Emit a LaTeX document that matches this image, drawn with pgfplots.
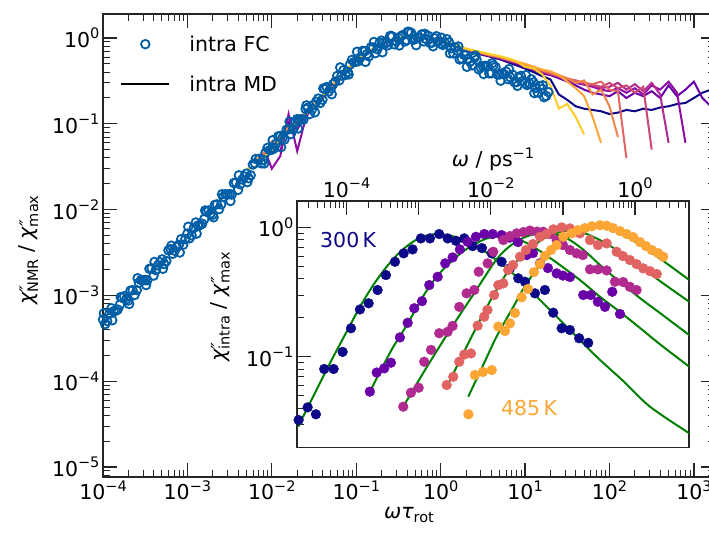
\documentclass[border=0pt]{standalone}
\usepackage{fontspec}
\setmainfont{DejaVu Sans}
\usepackage{pgfplots}
\pgfplotsset{compat=1.18}
\usepackage{pgfplotstable}

\newcommand{\fs}{\fontsize{20.5}{24}\selectfont}
\newcommand{\sups}[1]{\raisebox{0.42em}{\fontsize{14.5}{15}\selectfont #1}}
\newcommand{\subs}[1]{\raisebox{-0.22em}{\fontsize{14.5}{15}\selectfont #1}}
\newcommand{\chipp}[1]{{\itshape χ}\makebox[0pt][l]{\raisebox{0.05em}{\fontsize{18}{18}\selectfont\itshape\kern0.02em″}}\subs{#1}}

\definecolor{fcblue}{RGB}{0,94,166}
\definecolor{p0}{HTML}{0D0887}
\definecolor{p2}{HTML}{6A00A8}
\definecolor{p3}{HTML}{8F0DA4}
\definecolor{p4}{HTML}{B12A90}
\definecolor{p5}{HTML}{CC4778}
\definecolor{p6}{HTML}{E16462}
\definecolor{p7}{HTML}{F2844B}
\definecolor{p8}{HTML}{FCA636}
\definecolor{p9}{HTML}{FCCE25}
\definecolor{fitgreen}{HTML}{008000}

\pgfplotstableread{
x y
1.000e-4 5.25e-4
1.122e-4 5.01e-4
1.259e-4 7.08e-4
1.413e-4 6.61e-4
1.585e-4 7.76e-4
1.778e-4 9.77e-4
1.995e-4 8.71e-4
2.239e-4 1.15e-3
2.512e-4 1.15e-3
2.818e-4 1.51e-3
3.162e-4 1.51e-3
3.548e-4 2.04e-3
3.981e-4 1.70e-3
4.467e-4 2.24e-3
5.012e-4 2.63e-3
5.623e-4 2.51e-3
6.310e-4 3.47e-3
7.079e-4 3.31e-3
7.943e-4 3.89e-3
8.913e-4 3.89e-3
1.000e-3 5.25e-3
1.122e-3 5.01e-3
1.259e-3 7.08e-3
1.413e-3 6.61e-3
1.585e-3 7.76e-3
1.778e-3 9.77e-3
1.995e-3 8.71e-3
2.239e-3 1.15e-2
2.512e-3 1.15e-2
2.818e-3 1.51e-2
3.162e-3 1.51e-2
3.548e-3 2.04e-2
3.981e-3 1.70e-2
4.467e-3 2.24e-2
5.012e-3 2.63e-2
5.623e-3 2.51e-2
6.310e-3 3.47e-2
1.059e-4 4.62e-4
1.189e-4 6.10e-4
1.334e-4 6.53e-4
1.496e-4 6.84e-4
1.679e-4 9.44e-4
1.884e-4 9.02e-4
2.113e-4 1.135e-3
2.371e-4 1.01e-3
2.661e-4 1.40e-3
2.985e-4 1.50e-3
3.350e-4 1.50e-3
3.758e-4 2.07e-3
4.217e-4 1.97e-3
4.732e-4 2.43e-3
5.309e-4 2.32e-3
5.957e-4 3.35e-3
6.683e-4 3.05e-3
7.499e-4 3.67e-3
8.414e-4 4.52e-3
9.441e-4 4.52e-3
1.059e-3 4.62e-3
1.189e-3 6.10e-3
1.334e-3 6.53e-3
1.496e-3 6.84e-3
1.679e-3 9.44e-3
1.884e-3 9.02e-3
2.113e-3 1.135e-2
2.371e-3 1.01e-2
2.661e-3 1.40e-2
2.985e-3 1.50e-2
3.350e-3 1.50e-2
3.758e-3 2.07e-2
4.217e-3 1.97e-2
4.732e-3 2.43e-2
5.309e-3 2.32e-2
5.957e-3 3.35e-2
7.079e-3 3.91e-2
7.943e-3 3.78e-2
8.913e-3 5.25e-2
1.000e-2 5.00e-2
1.122e-2 5.86e-2
1.259e-2 7.21e-2
1.413e-2 6.56e-2
1.585e-2 8.63e-2
1.778e-2 8.61e-2
1.995e-2 0.1135
2.239e-2 0.113
2.512e-2 0.149
2.818e-2 0.130
3.162e-2 0.167
3.548e-2 0.197
3.981e-2 0.191
4.467e-2 0.268
5.012e-2 0.259
5.623e-2 0.310
6.310e-2 0.321
7.079e-2 0.423
7.943e-2 0.403
8.913e-2 0.556
0.1 0.530
0.1122 0.596
0.1259 0.701
0.1413 0.612
0.1585 0.773
0.1778 0.740
0.1995 0.933
0.2239 0.867
0.2512 1.052
0.2818 0.843
0.3162 1.000
0.3548 1.081
0.3981 0.942
0.4467 1.151
0.5012 0.970
0.5623 1.009
0.6310 0.912
0.7079 1.064
0.7943 0.883
0.8913 1.050
1.0 0.863
1.122 0.875
1.259 0.891
1.413 0.661
1.585 0.708
1.778 0.575
1.995 0.631
2.239 0.531
2.512 0.589
2.818 0.432
3.162 0.471
3.548 0.474
3.981 0.388
4.467 0.459
5.012 0.376
5.623 0.378
6.310 0.331
7.079 0.374
7.943 0.306
8.913 0.362
10.0 0.296
11.22 0.297
12.59 0.304
14.13 0.231
15.85 0.254
17.78 0.211
7.499e-3 3.46e-2
8.414e-3 4.60e-2
9.441e-3 4.94e-2
1.059e-2 5.16e-2
1.189e-2 7.13e-2
1.334e-2 6.79e-2
1.496e-2 8.53e-2
1.679e-2 7.59e-2
1.884e-2 0.1047
2.113e-2 0.1119
2.371e-2 0.1119
2.661e-2 0.154
2.985e-2 0.147
3.350e-2 0.181
3.758e-2 0.175
4.217e-2 0.256
4.732e-2 0.238
5.309e-2 0.290
5.957e-2 0.362
6.683e-2 0.364
7.499e-2 0.372
8.414e-2 0.490
9.441e-2 0.524
0.1059 0.536
0.1189 0.708
0.1334 0.647
0.1496 0.780
0.1679 0.665
0.1884 0.879
0.2113 0.889
0.2371 0.822
0.2661 1.045
0.2985 0.918
0.3350 1.040
0.3758 0.910
0.4217 1.182
0.4732 0.953
0.5309 1.013
0.5957 1.102
0.6683 0.974
0.7499 0.874
0.8414 0.997
0.9441 0.919
1.059 0.830
1.189 0.968
1.334 0.759
1.496 0.776
1.679 0.562
1.884 0.638
2.113 0.572
2.371 0.481
2.661 0.559
2.985 0.451
3.350 0.473
3.758 0.387
4.217 0.479
4.732 0.375
5.309 0.386
5.957 0.406
6.683 0.348
7.499 0.305
8.414 0.345
9.441 0.316
10.59 0.283
11.89 0.330
13.34 0.262
14.96 0.275
16.79 0.204
18.84 0.234
1.023e-4 6.17e-4
1.288e-4 5.13e-4
1.622e-4 9.55e-4
2.042e-4 7.94e-4
2.570e-4 1.585e-3
3.236e-4 1.318e-3
4.074e-4 2.455e-3
5.129e-4 2.042e-3
6.457e-4 3.80e-3
8.128e-4 3.16e-3
1.023e-3 6.31e-3
1.288e-3 5.25e-3
1.622e-3 9.77e-3
2.042e-3 8.13e-3
2.570e-3 1.51e-2
3.236e-3 1.26e-2
4.074e-3 2.51e-2
5.129e-3 2.09e-2
6.457e-3 3.89e-2
8.128e-3 3.45e-2
1.023e-2 6.44e-2
1.288e-2 5.35e-2
1.622e-2 0.106
2.042e-2 8.81e-2
2.570e-2 0.164
3.236e-2 0.136
4.074e-2 0.258
5.129e-2 0.221
6.457e-2 0.454
8.128e-2 0.376
0.1023 0.692
0.1288 0.527
0.1622 0.899
0.2042 0.682
0.2570 1.059
0.3236 0.818
0.4074 1.183
0.5129 0.824
0.6457 1.119
0.8128 0.800
1.023 1.007
1.288 0.664
1.622 0.798
2.042 0.462
2.570 0.624
3.236 0.380
4.074 0.508
5.129 0.318
6.457 0.434
8.128 0.277
10.23 0.369
12.88 0.228
16.22 0.281
}\fcdata

\pgfplotstableread{
x c1 c2 c3 c4 c5 c6 c7 c8 c9
0.00501 0.030 nan nan nan nan nan nan nan nan
0.00631 0.031 0.040 0.036 nan nan nan nan nan nan
0.00794 0.040 0.038 0.046 0.042 0.050 nan 0.055 nan nan
0.0100 0.050 0.058 0.050 0.062 0.047 0.045 0.030 0.055 nan
0.0126 0.066 0.060 0.072 0.058 0.075 0.070 0.042 0.048 0.062
0.0158 0.080 0.090 0.078 0.095 0.080 0.090 0.130 0.105 0.085
0.0200 0.103 0.098 0.110 0.100 0.115 0.098 0.048 0.085 0.100
0.0251 0.130 0.135 0.128 0.140 0.125 0.138 0.115 0.140 0.128
0.0316 0.165 0.160 0.170 0.162 0.168 0.158 0.172 0.155 0.160
0.0398 0.212 0.208 0.215 0.205 0.214 0.200 0.210 0.205 0.198
0.0501 0.275 0.270 0.272 0.268 0.276 0.262 0.270 0.265 0.258
0.0631 0.352 0.348 0.350 0.345 0.352 0.340 0.345 0.338 0.335
0.0794 0.445 0.440 0.440 0.436 0.442 0.430 0.435 0.428 0.425
0.1000 0.560 0.555 0.552 0.550 0.556 0.545 0.548 0.540 0.535
0.1259 0.650 0.645 0.640 0.640 0.642 0.635 0.638 0.630 0.625
0.1585 0.755 0.748 0.742 0.745 0.742 0.735 0.738 0.730 0.725
0.1995 0.870 0.865 0.860 0.862 0.858 0.852 0.855 0.848 0.840
0.2512 0.940 0.935 0.930 0.930 0.925 0.920 0.922 0.915 0.910
0.3162 1.000 0.995 0.990 0.990 0.985 0.980 0.980 0.975 0.970
0.3981 1.040 1.035 1.030 1.030 1.025 1.020 1.020 1.015 1.010
0.5012 1.040 1.035 1.030 1.030 1.030 1.025 1.025 1.020 1.020
0.6310 1.020 1.015 1.010 1.010 1.010 1.010 1.005 1.000 1.000
0.7943 0.985 0.980 0.978 0.978 0.975 0.975 0.972 0.970 0.965
1.0000 0.940 0.935 0.930 0.930 0.928 0.925 0.920 0.920 0.915
1.259 0.885 0.875 0.870 0.870 0.866 0.862 0.860 0.855 0.850
1.585 0.815 0.805 0.800 0.800 0.795 0.790 0.790 0.785 0.775
1.995 0.755 0.748 0.742 0.740 0.738 0.735 0.730 0.725 0.715
2.512 0.715 0.708 0.700 0.700 0.698 0.695 0.690 0.685 0.675
3.162 0.680 0.670 0.665 0.660 0.658 0.655 0.650 0.645 0.635
3.981 0.645 0.635 0.630 0.625 0.622 0.620 0.615 0.610 0.600
5.012 0.615 0.605 0.600 0.598 0.595 0.590 0.585 0.578 0.565
6.310 0.580 0.568 0.560 0.558 0.555 0.550 0.545 0.538 0.520
7.943 0.535 0.535 0.525 0.522 0.520 0.515 0.508 0.500 0.480
10.00 0.460 0.500 0.490 0.485 0.482 0.478 0.470 0.460 0.440
12.59 0.440 0.465 0.455 0.450 0.445 0.440 0.432 0.420 0.400
15.85 0.380 0.430 0.425 0.418 0.414 0.410 0.400 0.385 0.360
19.95 0.280 0.410 0.400 0.390 0.385 0.380 0.375 0.370 0.330
25.12 0.150 0.370 0.370 0.360 0.360 0.355 0.350 0.340 0.220
31.62 0.170 0.310 0.340 0.335 0.335 0.330 0.325 0.310 0.190
39.81 0.120 0.260 0.300 0.320 0.320 0.310 0.300 0.280 0.160
50.12 0.075 0.210 0.320 0.300 0.300 0.290 0.285 0.250 0.150
63.10 nan 0.120 0.220 0.290 0.285 0.280 0.270 0.230 0.145
79.43 nan 0.060 0.250 0.310 0.270 0.260 0.250 0.220 0.140
100.0 nan nan 0.160 0.250 0.300 0.270 0.240 0.210 0.130
125.9 nan nan 0.070 0.240 0.260 0.300 0.260 0.240 0.135
158.5 nan nan nan 0.040 0.280 0.250 0.230 0.200 0.145
199.5 nan nan nan nan 0.230 0.290 0.260 0.230 0.140
251.2 nan nan nan nan 0.270 0.240 0.220 0.210 0.150
316.2 nan nan nan nan 0.050 0.300 0.280 0.240 0.145
398.1 nan nan nan nan nan 0.220 0.250 0.200 0.155
501.2 nan nan nan nan nan 0.060 0.310 0.280 0.160
631.0 nan nan nan nan nan nan 0.230 0.210 0.170
794.3 nan nan nan nan nan nan 0.060 0.250 0.175
1000 nan nan nan nan nan nan nan 0.310 0.200
1259 nan nan nan nan nan nan nan 0.200 0.230
1585 nan nan nan nan nan nan nan 0.160 0.250
1995 nan nan nan nan nan nan nan 0.150 0.260
}\mddata

\pgfplotstableread{
x y
2.16e-5 0.0324
2.88e-5 0.0406
3.75e-5 0.0359
4.89e-5 0.0804
6.6e-5 0.0804
8.8e-5 0.109
1.15e-4 0.166
1.53e-4 0.232
2.02e-4 0.259
2.69e-4 0.328
3.51e-4 0.428
4.68e-4 0.542
6.18e-4 0.630
8.22e-4 0.676
1.07e-3 0.822
1.43e-3 0.822
1.92e-3 0.888
2.52e-3 0.822
3.28e-3 0.788
4.28e-3 0.822
5.60e-3 0.717
7.53e-3 0.692
1.03e-2 0.630
1.41e-2 0.542
1.84e-2 0.482
2.40e-2 0.404
2.97e-2 0.380
4.09e-2 0.309
5.62e-2 0.328
7.33e-2 0.219
9.6e-2 0.166
0.125 0.161
0.168 0.139
0.224 0.128
}\tA

\pgfplotstableread{
x y
2.10e-4 0.0537
2.61e-4 0.0755
3.32e-4 0.0813
4.11e-4 0.0899
5.48e-4 0.141
7.02e-4 0.183
8.67e-4 0.237
1.11e-3 0.269
1.40e-3 0.358
1.83e-3 0.415
2.33e-3 0.527
2.95e-3 0.586
3.72e-3 0.676
4.76e-3 0.774
6.21e-3 0.846
8.09e-3 0.888
1.06e-2 0.888
1.41e-2 0.872
1.84e-2 0.834
2.38e-2 0.770
3.14e-2 0.611
3.84e-2 0.633
4.80e-2 0.527
6.19e-2 0.485
8.18e-2 0.441
0.100 0.424
0.125 0.413
0.191 0.300
0.244 0.300
0.305 0.266
0.383 0.243
0.483 0.318
0.618 0.214
}\tB

\pgfplotstableread{
x y
6.10e-4 0.0411
7.80e-4 0.0527
9.98e-4 0.0576
1.19e-3 0.0915
1.48e-3 0.113
1.92e-3 0.152
2.52e-3 0.156
2.95e-3 0.173
3.65e-3 0.243
4.61e-3 0.309
5.89e-3 0.328
6.78e-3 0.454
9.04e-3 0.527
1.08e-2 0.648
1.49e-2 0.798
1.84e-2 0.857
2.28e-2 0.899
2.83e-2 0.920
3.48e-2 0.945
4.36e-2 0.928
5.33e-2 0.925
6.61e-2 0.888
8.18e-2 0.798
0.100 0.730
0.125 0.668
0.155 0.630
0.189 0.611
0.237 0.474
0.305 0.474
0.404 0.465
0.526 0.380
0.685 0.378
0.849 0.347
1.05 0.328
}\tC

\pgfplotstableread{
x y
2.44e-3 0.0604
3.01e-3 0.0700
3.65e-3 0.0915
4.28e-3 0.104
5.30e-3 0.106
6.56e-3 0.174
8.09e-3 0.204
8.97e-3 0.230
1.11e-2 0.300
1.27e-2 0.358
1.49e-2 0.369
1.74e-2 0.468
2.03e-2 0.512
2.54e-2 0.593
3.07e-2 0.668
3.84e-2 0.743
4.80e-2 0.846
5.90e-2 0.888
7.35e-2 0.966
9.60e-2 1.00
0.125 0.982
0.172 0.899
0.237 0.798
0.305 0.730
0.404 0.752
0.556 0.648
0.679 0.600
0.849 0.559
1.05 0.520
1.30 0.482
1.61 0.459
2.00 0.436
}\tD

\pgfplotstableread{
x y
4.89e-3 0.0359
6.01e-3 0.0722
7.76e-3 0.0762
1.03e-2 0.0789
1.27e-2 0.171
1.57e-2 0.158
1.84e-2 0.181
2.16e-2 0.218
2.67e-2 0.288
3.27e-2 0.334
3.96e-2 0.451
4.80e-2 0.520
5.62e-2 0.600
6.83e-2 0.668
8.18e-2 0.730
0.101 0.846
0.132 0.899
0.161 0.953
0.202 0.988
0.252 1.02
0.326 1.04
0.404 1.03
0.493 0.988
0.618 0.936
0.764 0.888
0.944 0.841
1.17 0.770
1.42 0.717
1.71 0.668
2.08 0.633
2.46 0.593
}\tE

\pgfplotstableread{
x y
2.13e-5 0.0288
3.63e-5 0.0524
6.19e-5 0.0943
1.00e-4 0.156
1.53e-4 0.243
2.34e-4 0.358
3.59e-4 0.496
5.48e-4 0.644
8.39e-4 0.777
1.22e-3 0.857
1.77e-3 0.888
2.71e-3 0.865
4.14e-3 0.798
6.35e-3 0.711
9.73e-3 0.611
2.28e-2 0.415
5.33e-2 0.259
0.125 0.161
0.293 0.100
0.685 0.0649
1.61 0.0411
5.65 0.0256
}\gA

\pgfplotstableread{
x y
2.10e-4 0.0533
2.83e-4 0.0744
4.35e-4 0.117
6.64e-4 0.171
1.26e-3 0.318
2.14e-3 0.468
4.06e-3 0.648
7.69e-3 0.798
1.18e-2 0.849
1.84e-2 0.841
2.97e-2 0.770
4.80e-2 0.656
9.08e-2 0.512
0.172 0.392
0.326 0.291
0.618 0.222
1.17 0.167
2.21 0.125
5.65 0.0837
}\gB

\pgfplotstableread{
x y
6.30e-4 0.0424
1.22e-3 0.0789
2.71e-3 0.161
6.01e-3 0.316
1.18e-2 0.559
1.84e-2 0.717
2.97e-2 0.841
4.80e-2 0.904
7.74e-2 0.888
0.125 0.798
0.202 0.656
0.326 0.512
0.618 0.378
1.17 0.284
2.21 0.218
5.65 0.147
}\gC

\pgfplotstableread{
x y
2.44e-3 0.0586
3.94e-3 0.100
6.35e-3 0.171
1.03e-2 0.284
1.66e-2 0.441
2.67e-2 0.600
4.32e-2 0.752
6.61e-2 0.872
0.112 0.941
0.172 0.929
0.326 0.798
0.618 0.644
1.17 0.502
2.21 0.385
5.65 0.266
}\gD

\pgfplotstableread{
x y
4.86e-3 0.0491
7.64e-3 0.0837
1.20e-2 0.143
1.94e-2 0.230
3.14e-2 0.369
5.07e-2 0.530
8.18e-2 0.708
0.125 0.857
0.191 0.941
0.293 1.00
0.404 0.996
0.556 0.925
0.849 0.819
1.30 0.708
2.74 0.527
5.65 0.392
}\gE

\pgfplotsset{
  myticks/.style={
    tick align=inside,
    major tick length=14pt, minor tick length=7pt,
    major tick style={black!85, line width=1.3pt},
    minor tick style={black!85, line width=1pt},
    axis line style={black!85, line width=1.2pt},
    tick label style={font=\fs},
    label style={font=\fs},
  }
}

\begin{document}
\begin{tikzpicture}
\useasboundingbox (-103pt,-59pt) rectangle (606pt,477pt);
\begin{axis}[
  myticks,
  at={(0pt,0pt)}, anchor=south west,
  scale only axis, width=612pt, height=463pt,
  xmode=log, ymode=log,
  xmin=1e-4, xmax=1778, ymin=7.64e-6, ymax=1.905,
  xtick={1e-4,1e-3,1e-2,1e-1,1,10,100,1000},
  xticklabels={10\sups{−4},10\sups{−3},10\sups{−2},10\sups{−1},10\sups{0},10\sups{1},10\sups{2},10\sups{3}},
  ytick={1e-5,1e-4,1e-3,1e-2,1e-1,1},
  yticklabels={10\sups{−5},10\sups{−4},10\sups{−3},10\sups{−2},10\sups{−1},10\sups{0}},
  minor xtick={2e-4,3e-4,4e-4,5e-4,6e-4,7e-4,8e-4,9e-4,2e-3,3e-3,4e-3,5e-3,6e-3,7e-3,8e-3,9e-3,0.02,0.03,0.04,0.05,0.06,0.07,0.08,0.09,0.2,0.3,0.4,0.5,0.6,0.7,0.8,0.9,2,3,4,5,6,7,8,9,20,30,40,50,60,70,80,90,200,300,400,500,600,700,800,900},
  minor ytick={8e-6,9e-6,2e-5,3e-5,4e-5,5e-5,6e-5,7e-5,8e-5,9e-5,2e-4,3e-4,4e-4,5e-4,6e-4,7e-4,8e-4,9e-4,2e-3,3e-3,4e-3,5e-3,6e-3,7e-3,8e-3,9e-3,0.02,0.03,0.04,0.05,0.06,0.07,0.08,0.09,0.2,0.3,0.4,0.5,0.6,0.7,0.8,0.9},
  xtick pos=both, ytick pos=both,
  xticklabel pos=left, yticklabel pos=left,
  xlabel={{\itshape ωτ}\subs{rot}},
  ylabel={\chipp{NMR} / \chipp{max}},
  ylabel style={at={(axis description cs:-0.1217,0.49)}, anchor=center},
  unbounded coords=jump,
  legend style={at={(0.028,0.958)}, anchor=north west, draw=none, fill=none,
    font=\fs, row sep=19pt, inner sep=0pt, legend cell align=left,
    /tikz/every odd column/.append style={column sep=17pt}},
]
\addplot[only marks, mark=o, mark size=4.3pt, fcblue, line width=1.8pt,
  legend image code/.code={\draw[fcblue, line width=1.8pt, mark=o, mark size=4.3pt] plot coordinates {(24pt,0pt)};}]
  table[x=x,y=y] {\fcdata};
\addlegendentry{intra FC}
\addlegendimage{black, line width=2pt, legend image code/.code={\draw[black, line width=2pt] (0pt,0pt) -- (48pt,0pt);}}
\addlegendentry{intra MD}
\addplot[forget plot, p0, line width=2pt] table[x=x,y=c9] {\mddata};
\addplot[forget plot, p2, line width=2pt] table[x=x,y=c8] {\mddata};
\addplot[forget plot, p3, line width=2pt] table[x=x,y=c7] {\mddata};
\addplot[forget plot, p4, line width=2pt] table[x=x,y=c6] {\mddata};
\addplot[forget plot, p5, line width=2pt] table[x=x,y=c5] {\mddata};
\addplot[forget plot, p6, line width=2pt] table[x=x,y=c4] {\mddata};
\addplot[forget plot, p7, line width=2pt] table[x=x,y=c3] {\mddata};
\addplot[forget plot, p8, line width=2pt] table[x=x,y=c2] {\mddata};
\addplot[forget plot, p9, line width=2pt] table[x=x,y=c1] {\mddata};
\end{axis}

\begin{axis}[
  myticks,
  at={(194pt,29.3pt)}, anchor=south west,
  scale only axis, width=392pt, height=246.7pt,
  xmode=log, ymode=log,
  xmin=2.05e-5, xmax=5.6, ymin=0.0198, ymax=1.6,
  axis background/.style={fill=white},
  xtick={1e-4,1e-3,1e-2,1e-1,1},
  xticklabels={10\sups{−4},,10\sups{−2},,10\sups{0}},
  ytick={0.1,1},
  yticklabels={10\sups{−1},10\sups{0}},
  minor xtick={3e-5,4e-5,5e-5,6e-5,7e-5,8e-5,9e-5,2e-4,3e-4,4e-4,5e-4,6e-4,7e-4,8e-4,9e-4,2e-3,3e-3,4e-3,5e-3,6e-3,7e-3,8e-3,9e-3,0.02,0.03,0.04,0.05,0.06,0.07,0.08,0.09,0.2,0.3,0.4,0.5,0.6,0.7,0.8,0.9,2,3,4,5},
  minor ytick={0.02,0.03,0.04,0.05,0.06,0.07,0.08,0.09,0.2,0.3,0.4,0.5,0.6,0.7,0.8,0.9},
  xtick pos=right, xticklabel pos=right,
  ytick pos=left, yticklabel pos=left,
  xlabel={{\itshape ω} / ps\sups{−1}},
  ylabel={\chipp{intra} / \chipp{max}},
  ylabel style={at={(axis description cs:-0.1964,0.57)}, anchor=center},
]
\addplot[only marks, mark=*, mark size=4.9pt, p0, mark options={draw=none, fill=p0}] table[x=x,y=y] {\tA};
\addplot[only marks, mark=*, mark size=4.9pt, p2, mark options={draw=none, fill=p2}] table[x=x,y=y] {\tB};
\addplot[only marks, mark=*, mark size=4.9pt, p4, mark options={draw=none, fill=p4}] table[x=x,y=y] {\tC};
\addplot[only marks, mark=*, mark size=4.9pt, p6, mark options={draw=none, fill=p6}] table[x=x,y=y] {\tD};
\addplot[only marks, mark=*, mark size=4.9pt, p8, mark options={draw=none, fill=p8}] table[x=x,y=y] {\tE};
\addplot[fitgreen, line width=2pt, smooth, tension=0.5] table[x=x,y=y] {\gA};
\addplot[fitgreen, line width=2pt, smooth, tension=0.5] table[x=x,y=y] {\gB};
\addplot[fitgreen, line width=2pt, smooth, tension=0.5] table[x=x,y=y] {\gC};
\addplot[fitgreen, line width=2pt, smooth, tension=0.5] table[x=x,y=y] {\gD};
\addplot[fitgreen, line width=2pt, smooth, tension=0.5] table[x=x,y=y] {\gE};
\node[anchor=west, text=p0, font=\fs, inner sep=0pt] at (axis cs:4.27e-5,0.80) {300\,K};
\node[anchor=west, text=p8, font=\fs, inner sep=0pt] at (axis cs:1.38e-2,0.0401) {485\,K};
\end{axis}
\end{tikzpicture}
\end{document}
